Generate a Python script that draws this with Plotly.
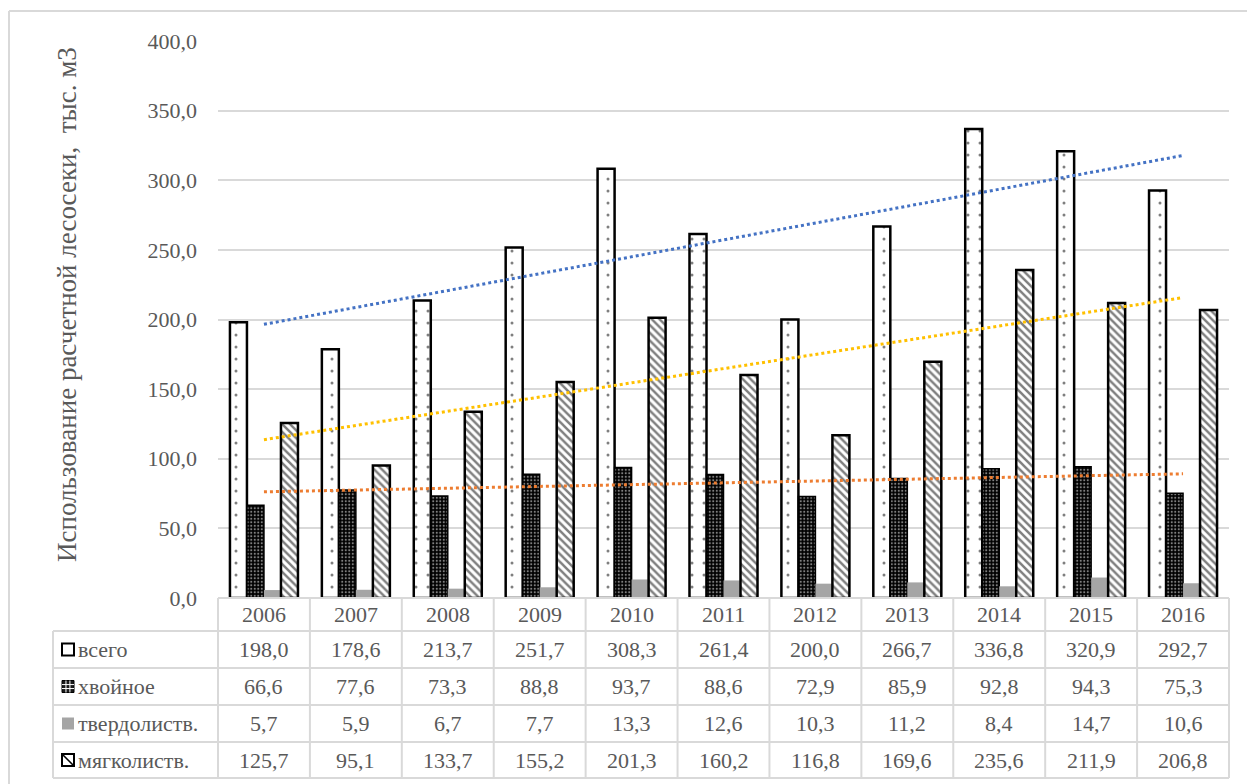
import numpy as np
import plotly.graph_objects as go

years = ["2006", "2007", "2008", "2009", "2010", "2011", "2012", "2013", "2014", "2015", "2016"]
vsego = [198.0, 178.6, 213.7, 251.7, 308.3, 261.4, 200.0, 266.7, 336.8, 320.9, 292.7]
hvoinoe = [66.6, 77.6, 73.3, 88.8, 93.7, 88.6, 72.9, 85.9, 92.8, 94.3, 75.3]
tverdolist = [5.7, 5.9, 6.7, 7.7, 13.3, 12.6, 10.3, 11.2, 8.4, 14.7, 10.6]
myagkolist = [125.7, 95.1, 133.7, 155.2, 201.3, 160.2, 116.8, 169.6, 235.6, 211.9, 206.8]
series_names = ["всего", "хвойное", "твердолиств.", "мягколиств."]
y_title = "Использование расчетной лесосеки,  тыс. м3"

W, H = 1247, 784
L, R, T, B = 218, 1229, 41, 598
FONT = "Liberation Serif"
TXT = "#595959"
GRID = "#d9d9d9"


def px2x(px):
    return (px - L) / (R - L)


def py2y(py):
    return (B - py) / (B - T)


fig = go.Figure()

fig.add_trace(go.Bar(
    x=years, y=vsego, name=series_names[0],
    marker=dict(color="white", line=dict(color="black", width=2.5),
                pattern=dict(shape=".", fgcolor="black", bgcolor="white", size=12, solidity=0.05)),
))
fig.add_trace(go.Bar(
    x=years, y=hvoinoe, name=series_names[1],
    marker=dict(color="black", line=dict(color="black", width=1.5),
                pattern=dict(shape=".", fgcolor="white", bgcolor="black", size=3.5, solidity=0.3)),
))
fig.add_trace(go.Bar(
    x=years, y=tverdolist, name=series_names[2],
    marker=dict(color="#a5a5a5", line=dict(width=0)),
))
fig.add_trace(go.Bar(
    x=years, y=myagkolist, name=series_names[3],
    marker=dict(color="white", line=dict(color="black", width=2.5),
                pattern=dict(shape="\\", fgcolor="black", bgcolor="white", size=5.5, solidity=0.45)),
))

# linear trendlines (as Excel trendlines computed from the data)
idx = np.arange(len(years))
for vals, col in [(vsego, "#4472c4"), (myagkolist, "#ffc000"), (hvoinoe, "#ed7d31")]:
    k, b = np.polyfit(idx, vals, 1)
    fig.add_trace(go.Scatter(
        x=years, y=k * idx + b, mode="lines",
        line=dict(color=col, width=3, dash="dot"), hoverinfo="skip",
    ))

shapes = []
annotations = []

# outer frame (left + top)
shapes.append(dict(type="line", xref="paper", yref="paper", x0=px2x(9), x1=px2x(9),
                   y0=py2y(11), y1=py2y(800), line=dict(color=GRID, width=2)))
shapes.append(dict(type="line", xref="paper", yref="paper", x0=px2x(9), x1=px2x(1260),
                   y0=py2y(11), y1=py2y(11), line=dict(color=GRID, width=2)))

# data table grid
row_edges = [598, 631, 668, 705, 742, 778]
col_w = (R - L) / len(years)
col_edges = [L + i * col_w for i in range(len(years) + 1)]
line_style = dict(color=GRID, width=2)
shapes.append(dict(type="line", xref="paper", yref="paper", x0=0, x1=1,
                   y0=0, y1=0, line=line_style))
for ry in row_edges[1:]:
    shapes.append(dict(type="line", xref="paper", yref="paper", x0=px2x(53), x1=1,
                       y0=py2y(ry), y1=py2y(ry), line=line_style))
for cx in col_edges:
    shapes.append(dict(type="line", xref="paper", yref="paper", x0=px2x(cx), x1=px2x(cx),
                       y0=py2y(598), y1=py2y(778), line=line_style))
shapes.append(dict(type="line", xref="paper", yref="paper", x0=px2x(53), x1=px2x(53),
                   y0=py2y(631), y1=py2y(778), line=line_style))

tfont = dict(family=FONT, size=22, color=TXT)

for i, yr in enumerate(years):
    annotations.append(dict(x=i, xref="x", y=py2y((598 + 631) / 2), yref="paper",
                            text=yr, showarrow=False, font=tfont, xanchor="center", yanchor="middle"))

rows = [vsego, hvoinoe, tverdolist, myagkolist]
for r, (name, vals) in enumerate(zip(series_names, rows)):
    yc = (row_edges[r + 1] + row_edges[r + 2]) / 2
    annotations.append(dict(x=px2x(76), xref="paper", y=py2y(yc), yref="paper",
                            text=name, showarrow=False, font=tfont, xanchor="left", yanchor="middle"))
    for i, v in enumerate(vals):
        annotations.append(dict(x=i, xref="x", y=py2y(yc), yref="paper",
                                text=f"{v:.1f}".replace(".", ","), showarrow=False, font=tfont,
                                xanchor="center", yanchor="middle"))
    kx0, kx1 = px2x(62), px2x(74)
    ky0, ky1 = py2y(yc + 6), py2y(yc - 6)
    if r == 0:
        shapes.append(dict(type="rect", xref="paper", yref="paper", x0=kx0, x1=kx1, y0=ky0, y1=ky1,
                           fillcolor="white", line=dict(color="black", width=2)))
    elif r == 1:
        shapes.append(dict(type="rect", xref="paper", yref="paper", x0=kx0, x1=kx1, y0=ky0, y1=ky1,
                           fillcolor="#1a1a1a", line=dict(color="black", width=1)))
        for f in (0.33, 0.66):
            shapes.append(dict(type="line", xref="paper", yref="paper",
                               x0=kx0 + (kx1 - kx0) * f, x1=kx0 + (kx1 - kx0) * f, y0=ky0, y1=ky1,
                               line=dict(color="white", width=1)))
            shapes.append(dict(type="line", xref="paper", yref="paper",
                               x0=kx0, x1=kx1, y0=ky0 + (ky1 - ky0) * f, y1=ky0 + (ky1 - ky0) * f,
                               line=dict(color="white", width=1)))
    elif r == 2:
        shapes.append(dict(type="rect", xref="paper", yref="paper", x0=kx0, x1=kx1, y0=ky0, y1=ky1,
                           fillcolor="#a5a5a5", line=dict(width=0)))
    else:
        shapes.append(dict(type="rect", xref="paper", yref="paper", x0=kx0, x1=kx1, y0=ky0, y1=ky1,
                           fillcolor="white", line=dict(color="black", width=2)))
        shapes.append(dict(type="line", xref="paper", yref="paper", x0=kx0, x1=kx1, y0=ky1, y1=ky0,
                           line=dict(color="black", width=1.5)))

annotations.append(dict(x=px2x(67), xref="paper", y=py2y(305), yref="paper", text=y_title,
                        textangle=-90, showarrow=False, font=dict(family=FONT, size=27, color=TXT),
                        xanchor="center", yanchor="middle"))

fig.update_layout(
    width=W, height=H,
    margin=dict(l=L, r=W - R, t=T, b=H - B),
    paper_bgcolor="white", plot_bgcolor="white",
    barmode="group", bargap=0.26, bargroupgap=0,
    showlegend=False,
    separators=", ",
    shapes=shapes, annotations=annotations,
    xaxis=dict(type="category", range=[-0.5, len(years) - 0.5], autorange=False,
               showticklabels=False, showgrid=False, zeroline=False, showline=False, ticks=""),
    yaxis=dict(range=[0, 400], dtick=50, tickformat=".1f", showgrid=True, gridcolor=GRID,
               gridwidth=2, zeroline=False, showline=False, ticks="",
               ticklabelstandoff=20,
               tickfont=dict(family=FONT, size=22, color=TXT)),
)

fig.write_html("out.html", config={"displayModeBar": False},
               post_script="document.body.style.margin='0';")
